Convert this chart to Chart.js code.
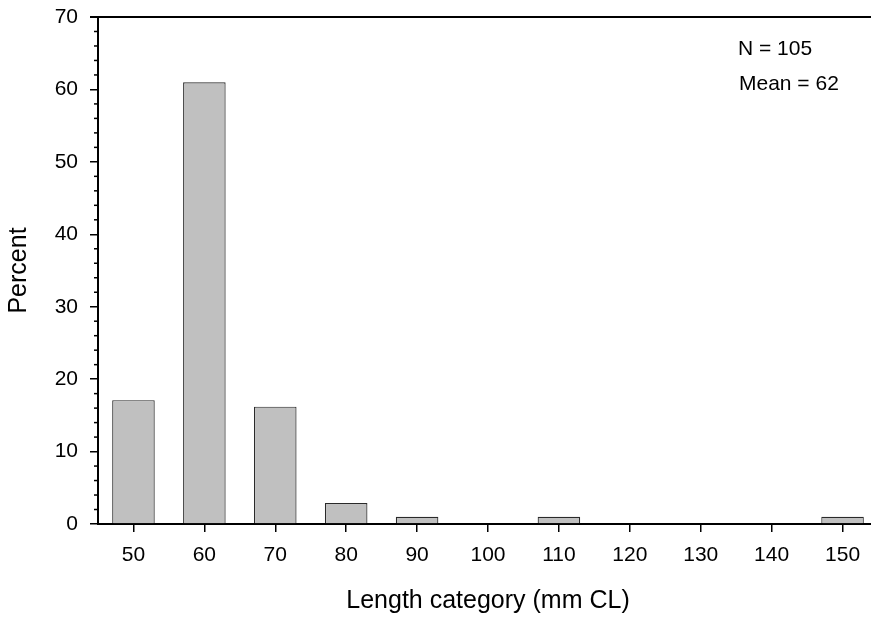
<!DOCTYPE html>
<html>
<head>
<meta charset="utf-8">
<script src="https://cdn.jsdelivr.net/npm/chart.js@4"></script>
<style>
  html, body { margin: 0; padding: 0; overflow: hidden; background: #fff; }
  canvas { display: block; }
</style>
</head>
<body>
<canvas id="lengthChart" width="878" height="617"></canvas>
<script>
const categories = ['50', '60', '70', '80', '90', '100', '110', '120', '130', '140', '150'];
const percent = [17.1, 61.0, 16.2, 2.9, 1.0, 0, 1.0, 0, 0, 0, 1.0];
const yTicks = [0, 10, 20, 30, 40, 50, 60, 70];
const notes = ['N = 105', 'Mean = 62'];

const fontFamily = '"Liberation Sans", Arial, sans-serif';

// top frame line, minor y ticks and the N / Mean note
const extras = {
  id: 'extras',
  afterDraw(chart) {
    const ctx = chart.ctx;
    const area = chart.chartArea;
    const y = chart.scales.y;
    ctx.save();
    ctx.strokeStyle = '#000';
    ctx.lineWidth = 2;
    ctx.beginPath();
    ctx.moveTo(area.left - 8, area.top);
    ctx.lineTo(area.right, area.top);
    ctx.stroke();

    ctx.lineWidth = 1.5;
    for (let v = yTicks[0]; v <= yTicks[yTicks.length - 1]; v += 2) {
      if (v % 10 === 0) continue;
      const py = y.getPixelForValue(v);
      ctx.beginPath();
      ctx.moveTo(area.left - 4, py);
      ctx.lineTo(area.left, py);
      ctx.stroke();
    }

    ctx.fillStyle = '#000';
    ctx.font = '21px ' + fontFamily;
    ctx.textAlign = 'left';
    ctx.textBaseline = 'alphabetic';
    ctx.fillText(notes[0], 738, 55);
    ctx.fillText(notes[1], 739, 90);
    ctx.restore();
  }
};

new Chart(document.getElementById('lengthChart').getContext('2d'), {
  type: 'bar',
  data: {
    labels: categories,
    datasets: [{
      data: percent,
      backgroundColor: '#c0c0c0',
      borderColor: '#2a2a2a',
      borderWidth: 1.2,
      borderSkipped: 'start',
      barPercentage: 0.6,
      categoryPercentage: 1.0
    }]
  },
  options: {
    responsive: false,
    animation: false,
    devicePixelRatio: 1,
    layout: { padding: { top: 17, right: 0, bottom: 0, left: 0 } },
    plugins: {
      legend: { display: false },
      tooltip: { enabled: false }
    },
    scales: {
      x: {
        offset: true,
        grid: {
          offset: false,
          drawOnChartArea: false,
          drawTicks: true,
          tickLength: 8,
          color: '#000',
          lineWidth: 1.5
        },
        border: { color: '#000', width: 2 },
        ticks: {
          color: '#000',
          padding: 11,
          font: { family: fontFamily, size: 21 }
        },
        title: {
          display: true,
          text: 'Length category (mm CL)',
          color: '#000',
          font: { family: fontFamily, size: 25 },
          padding: { top: 0, bottom: 1 }
        },
        afterFit: s => { s.height = 93; s.paddingLeft = 0; s.paddingRight = 0; }
      },
      y: {
        min: yTicks[0],
        max: yTicks[yTicks.length - 1],
        afterBuildTicks: s => { s.ticks = yTicks.map(v => ({ value: v })); },
        grid: {
          drawOnChartArea: false,
          drawTicks: true,
          tickLength: 8,
          color: '#000',
          lineWidth: 1.5
        },
        border: { color: '#000', width: 2 },
        ticks: {
          color: '#000',
          padding: 12,
          font: { family: fontFamily, size: 21 }
        },
        title: {
          display: true,
          text: 'Percent',
          color: '#000',
          font: { family: fontFamily, size: 25 },
          padding: { top: 4, bottom: 0 }
        },
        afterFit: s => { s.width = 98; s.paddingTop = 0; s.paddingBottom = 0; }
      }
    }
  },
  plugins: [extras]
});
</script>
</body>
</html>
